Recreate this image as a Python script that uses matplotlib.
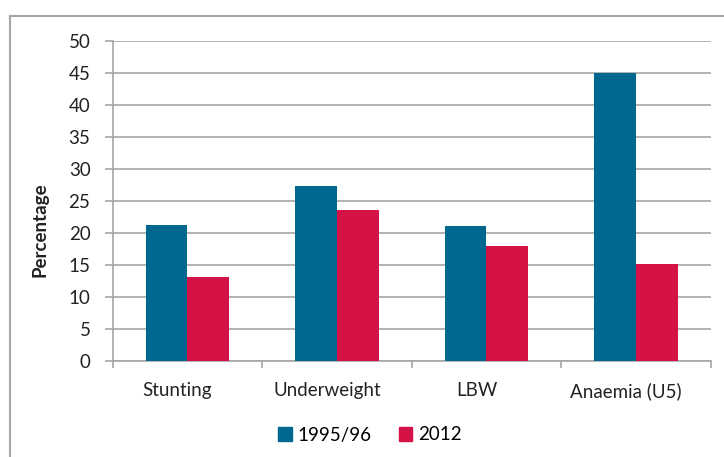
import numpy as np
import matplotlib.pyplot as plt
import matplotlib.transforms as mtransforms
from matplotlib.patches import Rectangle
from matplotlib.lines import Line2D

categories = ['Stunting', 'Underweight', 'LBW', 'Anaemia (U5)']
series_names = ['1995/96', '2012']
vals_1995 = [21.2, 27.3, 21.0, 45.0]
vals_2012 = [13.1, 23.5, 18.0, 15.1]
yticks = [0, 5, 10, 15, 20, 25, 30, 35, 40, 45, 50]

blue = '#00688f'
red = '#d51245'
grey = '#a6a6a6'
txt = '#222222'

plt.rcParams['font.family'] = ['Lato', 'DejaVu Sans']
fs = 13.5

fig = plt.figure(figsize=(7.24, 4.57), dpi=100)
W, H = 724, 457

# outer frame (open at right and bottom)
fig.add_artist(Line2D([9.5 / W, 1.0], [1 - 16 / H, 1 - 16 / H], color=grey, lw=1.5))
fig.add_artist(Line2D([9.5 / W, 9.5 / W], [0, 1 - 16 / H], color=grey, lw=1.5))

ax = fig.add_axes([112.7 / W, 1 - 361 / H, (710.7 - 112.7) / W, (361 - 40.7) / H])

x = np.arange(len(categories))
bw = 0.28
ax.bar(x - bw / 2, vals_1995, bw, color=blue, zorder=3, label=series_names[0])
ax.bar(x + bw / 2, vals_2012, bw, color=red, zorder=3, label=series_names[1])

ax.set_xlim(-0.5, len(categories) - 0.5)
ax.set_ylim(0, 50)
ax.set_yticks(yticks)
ax.set_yticklabels([str(t) for t in yticks], fontsize=fs, color=txt)
ax.yaxis.grid(True, color=grey, lw=1.2, zorder=0)

ax.set_xticks(x)
ax.set_xticklabels(categories, fontsize=fs, color=txt)
ax.tick_params(axis='x', length=0, pad=15)
ax.set_xticks(np.arange(-0.5, len(categories)), minor=True)
ax.tick_params(axis='x', which='minor', length=5, color=grey, width=1.2)
ax.tick_params(axis='y', length=6, color=grey, width=1.2, pad=10)

# category labels sit a little left of the group centres in the original
shift = mtransforms.ScaledTranslation(-10 / 100, 0, fig.dpi_scale_trans)
for lab in ax.get_xticklabels():
    lab.set_transform(lab.get_transform() + shift)

for s in ['top', 'right']:
    ax.spines[s].set_visible(False)
for s in ['left', 'bottom']:
    ax.spines[s].set_color(grey)
    ax.spines[s].set_linewidth(1.2)

fig.text(40 / W, 1 - 230 / H, 'Percentage', rotation=90, fontsize=fs,
         fontweight='bold', ha='center', va='center', color=txt)

handles = [Rectangle((0, 0), 1, 1, color=blue), Rectangle((0, 0), 1, 1, color=red)]
fig.legend(handles, series_names, loc='center', bbox_to_anchor=(370 / W, 1 - 435 / H),
           ncol=2, frameon=False, fontsize=fs, handlelength=0.7, handleheight=0.7,
           columnspacing=1.5, handletextpad=0.3)

plt.savefig('out.png', dpi=100)
